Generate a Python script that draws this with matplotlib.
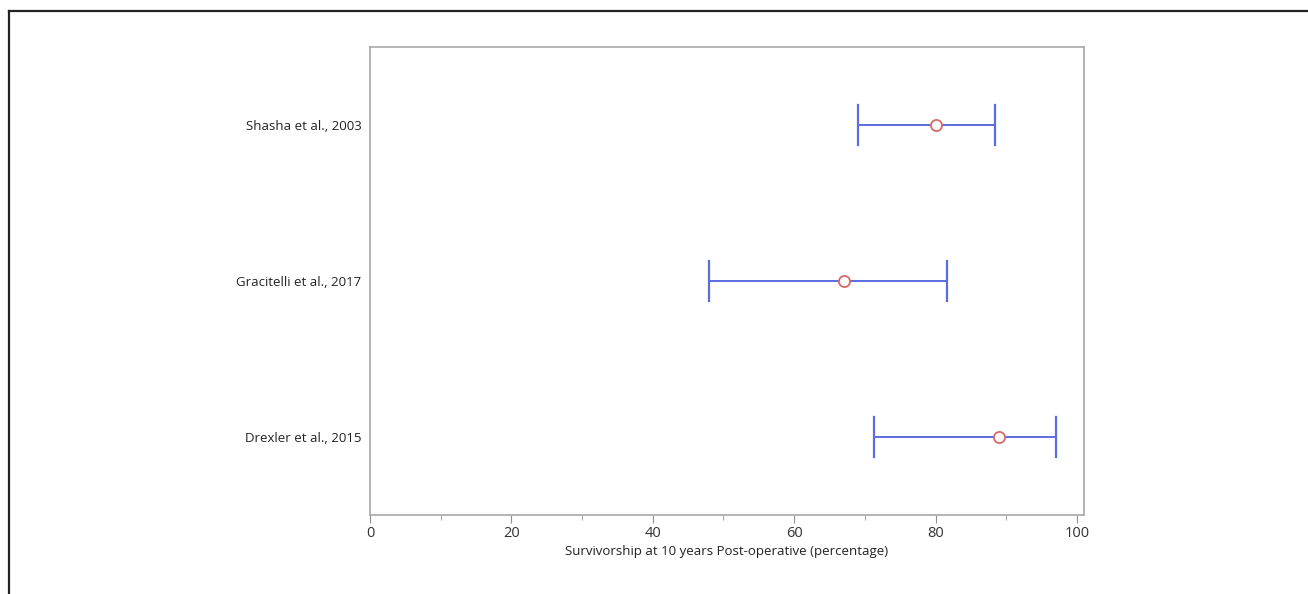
import matplotlib
matplotlib.use("Agg")
import matplotlib.pyplot as plt
from matplotlib.lines import Line2D

studies = ["Shasha et al., 2003", "Gracitelli et al., 2017", "Drexler et al., 2015"]
estimate = [80.0, 67.0, 89.0]
lower = [69.0, 48.0, 71.3]
upper = [88.4, 81.6, 97.1]
xticks = [0, 20, 40, 60, 80, 100]
minor_xticks = [10, 30, 50, 70, 90]
xlabel = "Survivorship at 10 years Post-operative (percentage)"

plt.rcParams['font.family'] = ['Open Sans', 'DejaVu Sans']

W, H = 1308, 594
fig = plt.figure(figsize=(W / 100, H / 100), dpi=100)
ax = fig.add_axes([370 / W, 1 - 515 / H, (1084 - 370) / W, (515 - 47) / H])

blue = "#5b6ee0"
red = "#d66a6a"
y = list(range(len(studies)))
for i in y:
    ax.plot([lower[i], upper[i]], [i, i], color=blue, lw=1.4, zorder=2)
    ax.plot([lower[i], lower[i]], [i - 0.13, i + 0.13], color=blue, lw=1.6, zorder=2)
    ax.plot([upper[i], upper[i]], [i - 0.13, i + 0.13], color=blue, lw=1.6, zorder=2)
ax.plot(estimate, y, 'o', ms=8, mfc='white', mec=red, mew=1.3, ls='none', zorder=3)

ax.set_xlim(0, 101)
ax.set_ylim(2.5, -0.5)
ax.set_xticks(xticks)
ax.set_xticks(minor_xticks, minor=True)
ax.set_yticks(y)
ax.set_yticklabels(studies)
ax.tick_params(axis='x', which='major', length=6, color='#909090', labelsize=10.5, labelcolor='#333333', pad=2)
ax.tick_params(axis='x', which='minor', length=3.5, color='#909090')
ax.tick_params(axis='y', length=0, labelsize=9.5, labelcolor='#222222', pad=6)
for s in ax.spines.values():
    s.set_color('#a8a8a8')
    s.set_linewidth(1.2)
ax.set_xlabel(xlabel, fontsize=9.5, color='#222222', labelpad=3)

# outer frame (left and top edges)
fig.add_artist(Line2D([8.5 / W, 8.5 / W], [0, 1 - 10.5 / H], transform=fig.transFigure, color='#222222', lw=1.6))
fig.add_artist(Line2D([8.5 / W, 1], [1 - 10.5 / H, 1 - 10.5 / H], transform=fig.transFigure, color='#222222', lw=1.6))

fig.savefig("out.png", dpi=100)
